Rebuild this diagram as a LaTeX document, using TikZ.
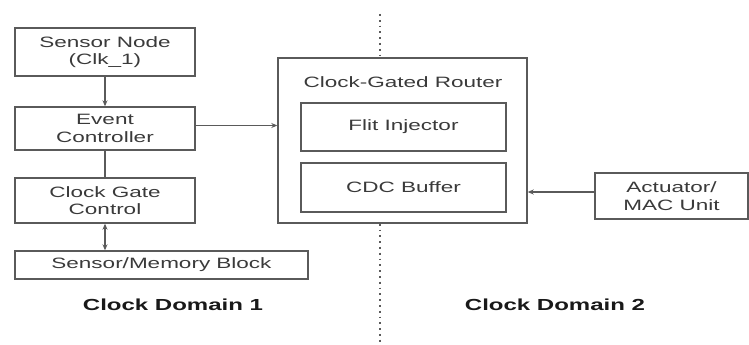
\documentclass[tikz,border=0pt]{standalone}
\usepackage{fontspec}
\setmainfont[FakeStretch=1.5]{Liberation Sans}
\usetikzlibrary{arrows.meta}
\definecolor{edge}{HTML}{5A5A5A}
\definecolor{ink}{HTML}{3A3A3A}
\tikzset{
  blk/.style={draw=edge, line width=1.4pt, rectangle, inner sep=0pt,
    align=center, text=ink, font=\fontsize{15}{17.5}\selectfont},
  conn/.style={draw=edge, line width=1.1pt, -{Stealth[length=6pt,width=5pt]}},
  biconn/.style={draw=edge, line width=1.1pt, {Stealth[length=6pt,width=5pt]}-{Stealth[length=6pt,width=5pt]}},
  plain/.style={draw=edge, line width=1.1pt},
  border/.style={draw=edge, line width=1.8pt, dash pattern=on 1.8pt off 4pt},
  domainlabel/.style={font=\fontsize{16}{18}\selectfont\bfseries, text=black!90}
}
\begin{document}
\begin{tikzpicture}[x=1pt, y=-1pt]
\useasboundingbox (0,0) rectangle (749,345);
\fill[white] (0,0) rectangle (749,345);

% Clock domain 1
\node[blk, minimum width=180pt, minimum height=48pt] (sn) at (105,52) {Sensor Node\\(Clk\_1)};
\node[blk, minimum width=180pt, minimum height=43pt] (ec) at (105,128.5) {Event\\Controller};
\node[blk, minimum width=180pt, minimum height=45pt] (cg) at (105,200.5) {Clock Gate\\Control};
\node[blk, minimum width=293pt, minimum height=28pt] (mem) at (161.5,265) {Sensor/Memory Block};

% Router spanning the boundary
\node[blk, minimum width=249pt, minimum height=165pt] (rt) at (402.5,140.5) {};
\node[text=ink, font=\fontsize{15}{17.5}\selectfont] (rtl) at (403,82) {Clock-Gated Router};
\node[blk, minimum width=205pt, minimum height=48pt] (fi) at (403.5,127) {Flit Injector};
\node[blk, minimum width=205pt, minimum height=49pt] (cdc) at (403.5,187.5) {CDC Buffer};

% Clock domain 2
\node[blk, minimum width=153pt, minimum height=46pt] (act) at (671.5,196) {Actuator/\\MAC Unit};

% Domain boundary
\coordinate (bt) at (380,14);
\coordinate (bb) at (380,345);
\draw[border] (bt) -- (bt |- rt.north);
\draw[border] (bb |- rt.south) -- (bb);

% Connections
\draw[conn] (sn) -- (ec);
\draw[plain] (ec) -- (cg);
\draw[biconn] (cg.south) -- (cg.south |- mem.north);
\draw[conn] ([yshift=3pt]ec.east) -- ([yshift=3pt]ec.east -| rt.west);
\draw[conn] ([yshift=4pt]act.west) -- ([yshift=4pt]act.west -| rt.east);

% Domain labels
\node[domainlabel] (d1) at (173,305) {Clock Domain 1};
\node[domainlabel] (d2) at (555,305) {Clock Domain 2};
\end{tikzpicture}
\end{document}
